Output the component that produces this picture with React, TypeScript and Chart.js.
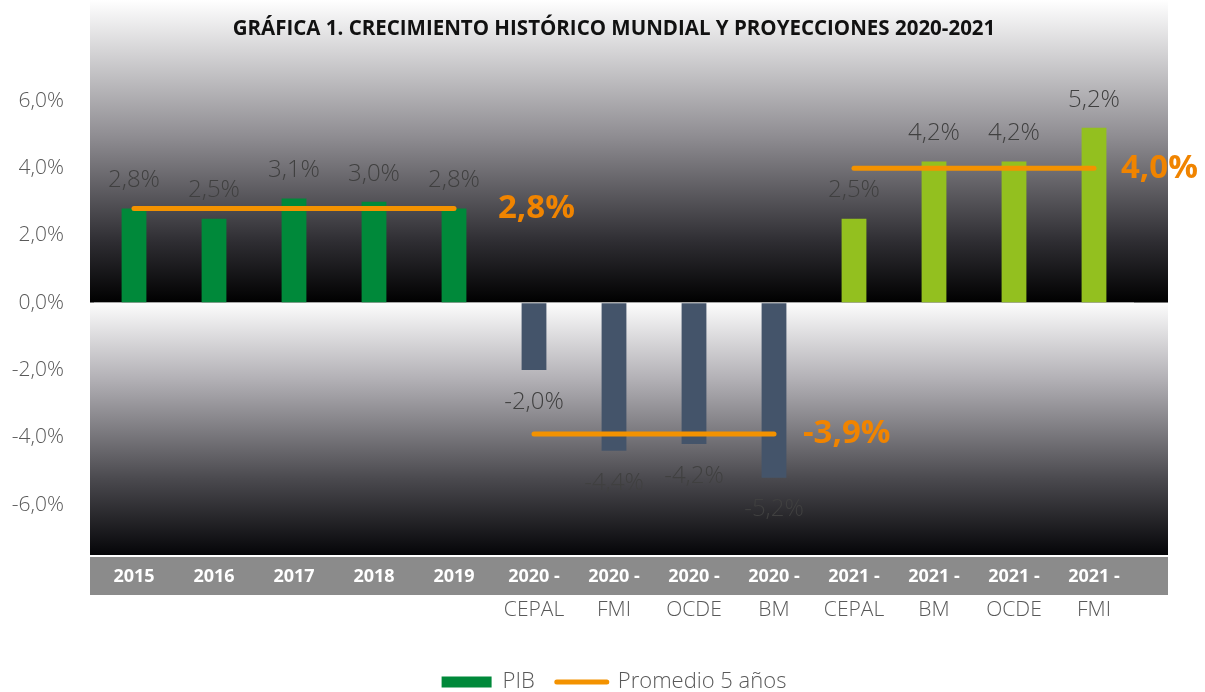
import React, { useEffect, useRef } from 'react';
import { Chart, registerables } from 'chart.js';

Chart.register(...registerables);

// ---------- data ----------
const labelTop = ['2015', '2016', '2017', '2018', '2019', '2020 -', '2020 -', '2020 -', '2020 -', '2021 -', '2021 -', '2021 -', '2021 -'];
const labelBottom = ['', '', '', '', '', 'CEPAL', 'FMI', 'OCDE', 'BM', 'CEPAL', 'BM', 'OCDE', 'FMI'];
const pibValues = [2.8, 2.5, 3.1, 3.0, 2.8, -2.0, -4.4, -4.2, -5.2, 2.5, 4.2, 4.2, 5.2];
const promedioValues = [2.8, 2.8, 2.8, 2.8, 2.8, -3.9, -3.9, -3.9, -3.9, 4.0, 4.0, 4.0, 4.0];
const barGroup = ['hist', 'hist', 'hist', 'hist', 'hist', 'p2020', 'p2020', 'p2020', 'p2020', 'p2021', 'p2021', 'p2021', 'p2021'];
const yTickValues = [-6, -4, -2, 0, 2, 4, 6];
const titleText = 'GRÁFICA 1. CRECIMIENTO HISTÓRICO MUNDIAL Y PROYECCIONES 2020-2021';

// ---------- styles ----------
const FONT = "'Open Sans', 'Lato', sans-serif";
const groupColors: Record<string, string> = { hist: '#00893A', p2020: '#44546A', p2021: '#93C01F' };
const ORANGE = '#F39200';
const ORANGE_TEXT = '#F08400';
const GRAY_TEXT = '#595959';
const avgLabelOffsets = [44, 29, 27];

const fmt = (v: number) => v.toFixed(1).replace('.', ',') + '%';

const decorPlugin = {
  id: 'decor',
  beforeDraw(chart: any) {
    const { ctx, chartArea: a, scales } = chart;
    const z = scales.y.getPixelForValue(0);
    const left = a.left - 4;
    const right = a.right + 34;
    ctx.save();
    let g = ctx.createLinearGradient(0, 0, 0, z);
    g.addColorStop(0, '#ffffff');
    g.addColorStop(0.45, '#8f8d92');
    g.addColorStop(0.8, '#2e2d32');
    g.addColorStop(1, '#000000');
    ctx.fillStyle = g;
    ctx.fillRect(left, 0, right - left, z);
    g = ctx.createLinearGradient(0, z, 0, a.bottom);
    g.addColorStop(0, '#fcfcfc');
    g.addColorStop(0.3, '#b3b1b6');
    g.addColorStop(0.7, '#4a494e');
    g.addColorStop(1, '#050508');
    ctx.fillStyle = g;
    ctx.fillRect(left, z, right - left, a.bottom - z);
    ctx.fillStyle = '#8b8b8b';
    ctx.fillRect(left, a.bottom + 2, right - left, 38);
    ctx.restore();
  },
  afterDatasetsDraw(chart: any) {
    const { ctx, chartArea: a } = chart;
    ctx.save();
    // bar value labels
    const barMeta = chart.getDatasetMeta(0);
    ctx.font = `300 24px ${FONT}`;
    ctx.fillStyle = '#404040';
    ctx.textAlign = 'center';
    ctx.textBaseline = 'middle';
    barMeta.data.forEach((bar: any, i: number) => {
      const v = pibValues[i];
      const y = v >= 0 ? bar.y - 28 : bar.y + 32;
      ctx.fillText(fmt(v), bar.x, y);
    });
    // average labels
    const lineMeta = chart.getDatasetMeta(1);
    ctx.font = `bold 33px ${FONT}`;
    ctx.fillStyle = ORANGE_TEXT;
    ctx.textAlign = 'left';
    let run = 0;
    promedioValues.forEach((v, i) => {
      const next = promedioValues[i + 1];
      if (next === undefined || next !== v) {
        const p = lineMeta.data[i];
        ctx.fillText(fmt(v), p.x + avgLabelOffsets[run], p.y);
        run++;
      }
    });
    // x labels
    ctx.textAlign = 'center';
    barMeta.data.forEach((bar: any, i: number) => {
      ctx.font = `bold 18px ${FONT}`;
      ctx.fillStyle = '#ffffff';
      ctx.fillText(labelTop[i], bar.x, a.bottom + 22);
      ctx.font = `300 21px ${FONT}`;
      ctx.fillStyle = GRAY_TEXT;
      ctx.fillText(labelBottom[i], bar.x, a.bottom + 55);
    });
    // title
    ctx.font = `bold 20.5px ${FONT}`;
    ctx.fillStyle = '#111111';
    ctx.fillText(titleText, (a.left + a.right) / 2, 29);
    ctx.restore();
  },
};

export default function App() {
  const ref = useRef<HTMLCanvasElement>(null);
  useEffect(() => {
    document.body.style.margin = '0';
    if (!ref.current) return;
    const chart = new Chart(ref.current, {
      type: 'bar',
      data: {
        labels: labelTop.map((t, i) => [t, labelBottom[i]]),
        datasets: [
          {
            type: 'bar',
            label: 'PIB',
            data: pibValues,
            backgroundColor: (c: any) => groupColors[barGroup[c.dataIndex] ?? 'hist'],
            borderWidth: 0,
            barPercentage: 0.31,
            categoryPercentage: 1,
            order: 1,
          },
          {
            type: 'line',
            label: 'Promedio 5 años',
            data: promedioValues,
            borderColor: ORANGE,
            backgroundColor: ORANGE,
            borderWidth: 5,
            borderCapStyle: 'round',
            pointRadius: 0,
            pointHoverRadius: 0,
            fill: false,
            order: 0,
            segment: {
              borderColor: (c: any) => (c.p0.parsed.y !== c.p1.parsed.y ? 'rgba(0,0,0,0)' : ORANGE),
            },
          } as any,
        ],
      },
      options: {
        responsive: false,
        animation: false,
        layout: { padding: { top: 0, left: 0, right: 71, bottom: -11 } },
        scales: {
          x: {
            grid: { display: false },
            border: { display: false },
            ticks: { display: false },
            afterFit: (s: any) => { s.height = 94; },
          },
          y: {
            min: -7.5,
            max: 9,
            afterFit: (s: any) => { s.width = 94; s.paddingTop = 0; s.paddingBottom = 0; },
            afterBuildTicks: (s: any) => { s.ticks = yTickValues.map((v) => ({ value: v })); },
            ticks: {
              padding: 30,
              color: GRAY_TEXT,
              font: { family: FONT, size: 21, weight: '300' as any },
              callback: (v: any) => fmt(Number(v)),
            },
            grid: {
              drawTicks: false,
              color: (c: any) => (c.tick && c.tick.value === 0 ? '#a6a6a6' : 'rgba(0,0,0,0)'),
              lineWidth: 1,
            },
            border: { display: false },
          },
        },
        plugins: {
          title: { display: false },
          tooltip: { enabled: false },
          legend: {
            position: 'bottom',
            fullSize: false,
            labels: {
              usePointStyle: true,
              pointStyleWidth: 50,
              boxHeight: 11,
              padding: 22,
              color: GRAY_TEXT,
              font: { family: FONT, size: 22, weight: '300' as any },
              sort: (a: any, b: any) => a.datasetIndex - b.datasetIndex,
              generateLabels: (ch: any) => {
                const items = (Chart.defaults.plugins.legend.labels as any).generateLabels(ch);
                return items.map((it: any) =>
                  it.datasetIndex === 0
                    ? { ...it, pointStyle: 'rect', fillStyle: groupColors.hist, strokeStyle: groupColors.hist, lineWidth: 0 }
                    : { ...it, pointStyle: 'line', fillStyle: ORANGE, strokeStyle: ORANGE, lineWidth: 5, lineCap: 'round' }
                );
              },
            },
          },
        },
      },
      plugins: [decorPlugin],
    } as any);
    return () => chart.destroy();
  }, []);
  return (
    <div style={{ width: 1205, height: 692 }}>
      <canvas ref={ref} width={1205} height={692} style={{ display: 'block' }} />
    </div>
  );
}
